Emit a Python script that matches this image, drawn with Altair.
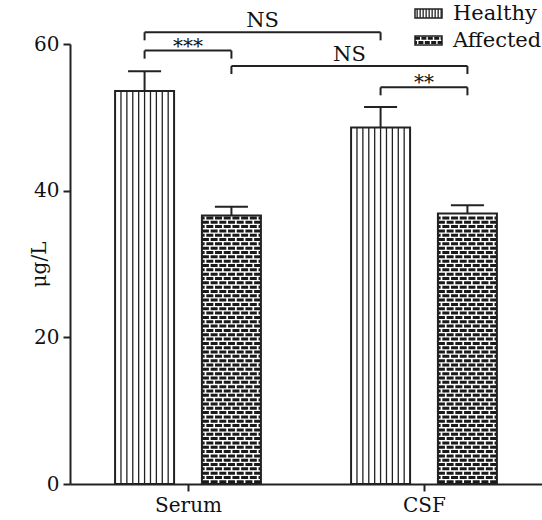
import altair as alt
import pandas as pd

# ---------------- data ----------------
groups = ["Serum", "CSF"]
series = ["Healthy", "Affected"]
healthy_mean = [53.6, 48.6]
affected_mean = [36.6, 36.9]
healthy_sem = [2.7, 2.8]
affected_sem = [1.2, 1.1]
y_ticks = [0, 20, 40, 60]

sig_start = ["Serum|Healthy", "Serum|Healthy", "Serum|Affected", "CSF|Healthy"]
sig_end = ["Serum|Affected", "CSF|Healthy", "CSF|Affected", "CSF|Affected"]
sig_label = ["***", "NS", "NS", "**"]
sig_level = [59.1, 61.6, 57.0, 54.1]

# ---------------- layout / style ----------------
OFFSET = 0.184
BAR_W = 0.25
CAP_HALF = 0.07
STRIPES = 10
BRICK_STEP = 0.59
DROP = 1.1
FONT = "DejaVu Serif"
INK = "#222222"

means = {"Healthy": healthy_mean, "Affected": affected_mean}
sems = {"Healthy": healthy_sem, "Affected": affected_sem}

rows = []
centers = {}
for gi, g in enumerate(groups):
    for si, s in enumerate(series):
        xc = gi + 0.5 + (-OFFSET if si == 0 else OFFSET)
        m = means[s][gi]
        e = sems[s][gi]
        centers[f"{g}|{s}"] = xc
        rows.append(dict(group=g, series=s, mean=m, sem=e, xc=xc,
                         xl=xc - BAR_W / 2, xr=xc + BAR_W / 2, top=m + e,
                         capl=xc - CAP_HALF, capr=xc + CAP_HALF, zero=0.0))
bars = pd.DataFrame(rows)

stripe_rows = []
for r in rows:
    if r["series"] != "Healthy":
        continue
    for i in range(1, STRIPES):
        stripe_rows.append(dict(x=r["xl"] + i * BAR_W / STRIPES, y0=0.0, y1=r["mean"]))
stripes = pd.DataFrame(stripe_rows)

brick_rows = []
for r in rows:
    if r["series"] != "Affected":
        continue
    k = 0
    while (k + 1) * BRICK_STEP <= r["mean"] + 0.05:
        brick_rows.append(dict(xl=r["xl"], xr=r["xr"], y=(k + 0.5) * BRICK_STEP, parity=k % 2))
        k += 1
bricks = pd.DataFrame(brick_rows)

br_rows = []
for a, b, lab, lev in zip(sig_start, sig_end, sig_label, sig_level):
    xa, xb = centers[a], centers[b]
    br_rows.append(dict(xa=xa, xb=xb, xm=(xa + xb) / 2, level=lev, low=lev - DROP,
                        label=lab, star=lab.startswith("*")))
brackets = pd.DataFrame(br_rows)

# ---------------- scales / axes ----------------
x_scale = alt.Scale(domain=[0, 2], nice=False, zero=False)
y_scale = alt.Scale(domain=[0, 60], nice=False)
label_list = "[" + ",".join(f"'{g}'" for g in groups) + "]"
x_axis = alt.Axis(values=[0.5, 1.5], labelExpr=f"{label_list}[floor(datum.value)]",
                  title=None, grid=False, labelPadding=4)
y_axis = alt.Axis(values=y_ticks, title="μg/L", grid=False, labelPadding=4,
                  titleAngle=-90, titleX=-31, titleY=220, titleAlign="center",
                  titleBaseline="middle", titleFont=FONT, titleFontSize=20,
                  titleFontWeight="normal", titleColor="#111111")


def X(f):
    return alt.X(f, type="quantitative", scale=x_scale, axis=x_axis)


def Y(f):
    return alt.Y(f, type="quantitative", scale=y_scale, axis=y_axis)


# ---------------- layers ----------------
brick_even = alt.Chart(bricks).transform_filter("datum.parity == 0").mark_rule(
    strokeWidth=3.0, strokeDash=[7, 1.7], strokeDashOffset=0, color="#1a1a1a"
).encode(x=X("xl"), x2="xr", y=Y("y"))
brick_odd = alt.Chart(bricks).transform_filter("datum.parity == 1").mark_rule(
    strokeWidth=3.0, strokeDash=[7, 1.7], strokeDashOffset=4.3, color="#1a1a1a"
).encode(x=X("xl"), x2="xr", y=Y("y"))

stripe_layer = alt.Chart(stripes).mark_rule(strokeWidth=1.3, color=INK).encode(
    x=X("x"), y=Y("y0"), y2="y1")

outline = alt.Chart(bars).mark_rect(fillOpacity=0, stroke=INK, strokeWidth=2).encode(
    x=X("xl"), x2="xr", y=Y("zero"), y2="mean")

err_v = alt.Chart(bars).mark_rule(strokeWidth=2, color=INK).encode(
    x=X("xc"), y=Y("mean"), y2="top")
err_cap = alt.Chart(bars).mark_rule(strokeWidth=2, color=INK).encode(
    x=X("capl"), x2="capr", y=Y("top"))

br_h = alt.Chart(brackets).mark_rule(strokeWidth=2, color=INK).encode(
    x=X("xa"), x2="xb", y=Y("level"))
br_l = alt.Chart(brackets).mark_rule(strokeWidth=2, color=INK).encode(
    x=X("xa"), y=Y("low"), y2="level")
br_r = alt.Chart(brackets).mark_rule(strokeWidth=2, color=INK).encode(
    x=X("xb"), y=Y("low"), y2="level")

ns_text = alt.Chart(brackets).transform_filter("!datum.star").mark_text(
    font=FONT, fontSize=21, baseline="alphabetic", dy=-5, color="#111111"
).encode(x=X("xm"), y=Y("level"), text="label:N")
star_text = alt.Chart(brackets).transform_filter("datum.star").mark_text(
    font=FONT, fontSize=20, baseline="alphabetic", dy=2, color="#111111"
).encode(x=X("xm"), y=Y("level"), text="label:N")

# ---------------- legend (drawn by hand for the patterns) ----------------
one = pd.DataFrame({"k": [0]})
leg_h_box = alt.Chart(one).mark_rect(fillOpacity=0, stroke=INK, strokeWidth=1.5).encode(
    x=alt.value(345), x2=alt.value(372), y=alt.value(-35), y2=alt.value(-26))
leg_h_str = alt.Chart(one).mark_rule(strokeWidth=9, strokeDash=[1.3, 1.7], color=INK).encode(
    x=alt.value(346.5), x2=alt.value(372), y=alt.value(-30.5))
leg_a_box = alt.Chart(one).mark_rect(fill="white", stroke=INK, strokeWidth=1.5).encode(
    x=alt.value(345), x2=alt.value(372), y=alt.value(-8), y2=alt.value(1))
leg_a_r1 = alt.Chart(one).mark_rule(strokeWidth=3, strokeDash=[5, 1.4], color="#1a1a1a").encode(
    x=alt.value(345), x2=alt.value(372), y=alt.value(-5.8))
leg_a_r2 = alt.Chart(one).mark_rule(strokeWidth=3, strokeDash=[5, 1.4], strokeDashOffset=3,
                                    color="#1a1a1a").encode(
    x=alt.value(345), x2=alt.value(372), y=alt.value(-1.6))
leg_t1 = alt.Chart(one).mark_text(font=FONT, fontSize=21, align="left", baseline="alphabetic",
                                  color="#111111", text=series[0]).encode(
    x=alt.value(383), y=alt.value(-24))
leg_t2 = alt.Chart(one).mark_text(font=FONT, fontSize=21, align="left", baseline="alphabetic",
                                  color="#111111", text=series[1]).encode(
    x=alt.value(383), y=alt.value(2.7))

chart = alt.layer(
    brick_even, brick_odd, stripe_layer, outline, err_v, err_cap,
    br_h, br_l, br_r, ns_text, star_text,
    leg_h_box, leg_h_str, leg_a_box, leg_a_r1, leg_a_r2, leg_t1, leg_t2,
).properties(
    width=472, height=440,
    padding={"left": 70, "top": 44, "right": 0, "bottom": 36},
    autosize=alt.AutoSizeParams(type="none"),
    background="white",
).configure_view(stroke=None).configure_axis(
    domainColor=INK, domainWidth=2, tickColor=INK, tickWidth=2, tickSize=7,
    labelFont=FONT, labelFontSize=20, labelColor="#111111",
)

chart.save("out.html", embed_options={"renderer": "svg", "actions": False})
